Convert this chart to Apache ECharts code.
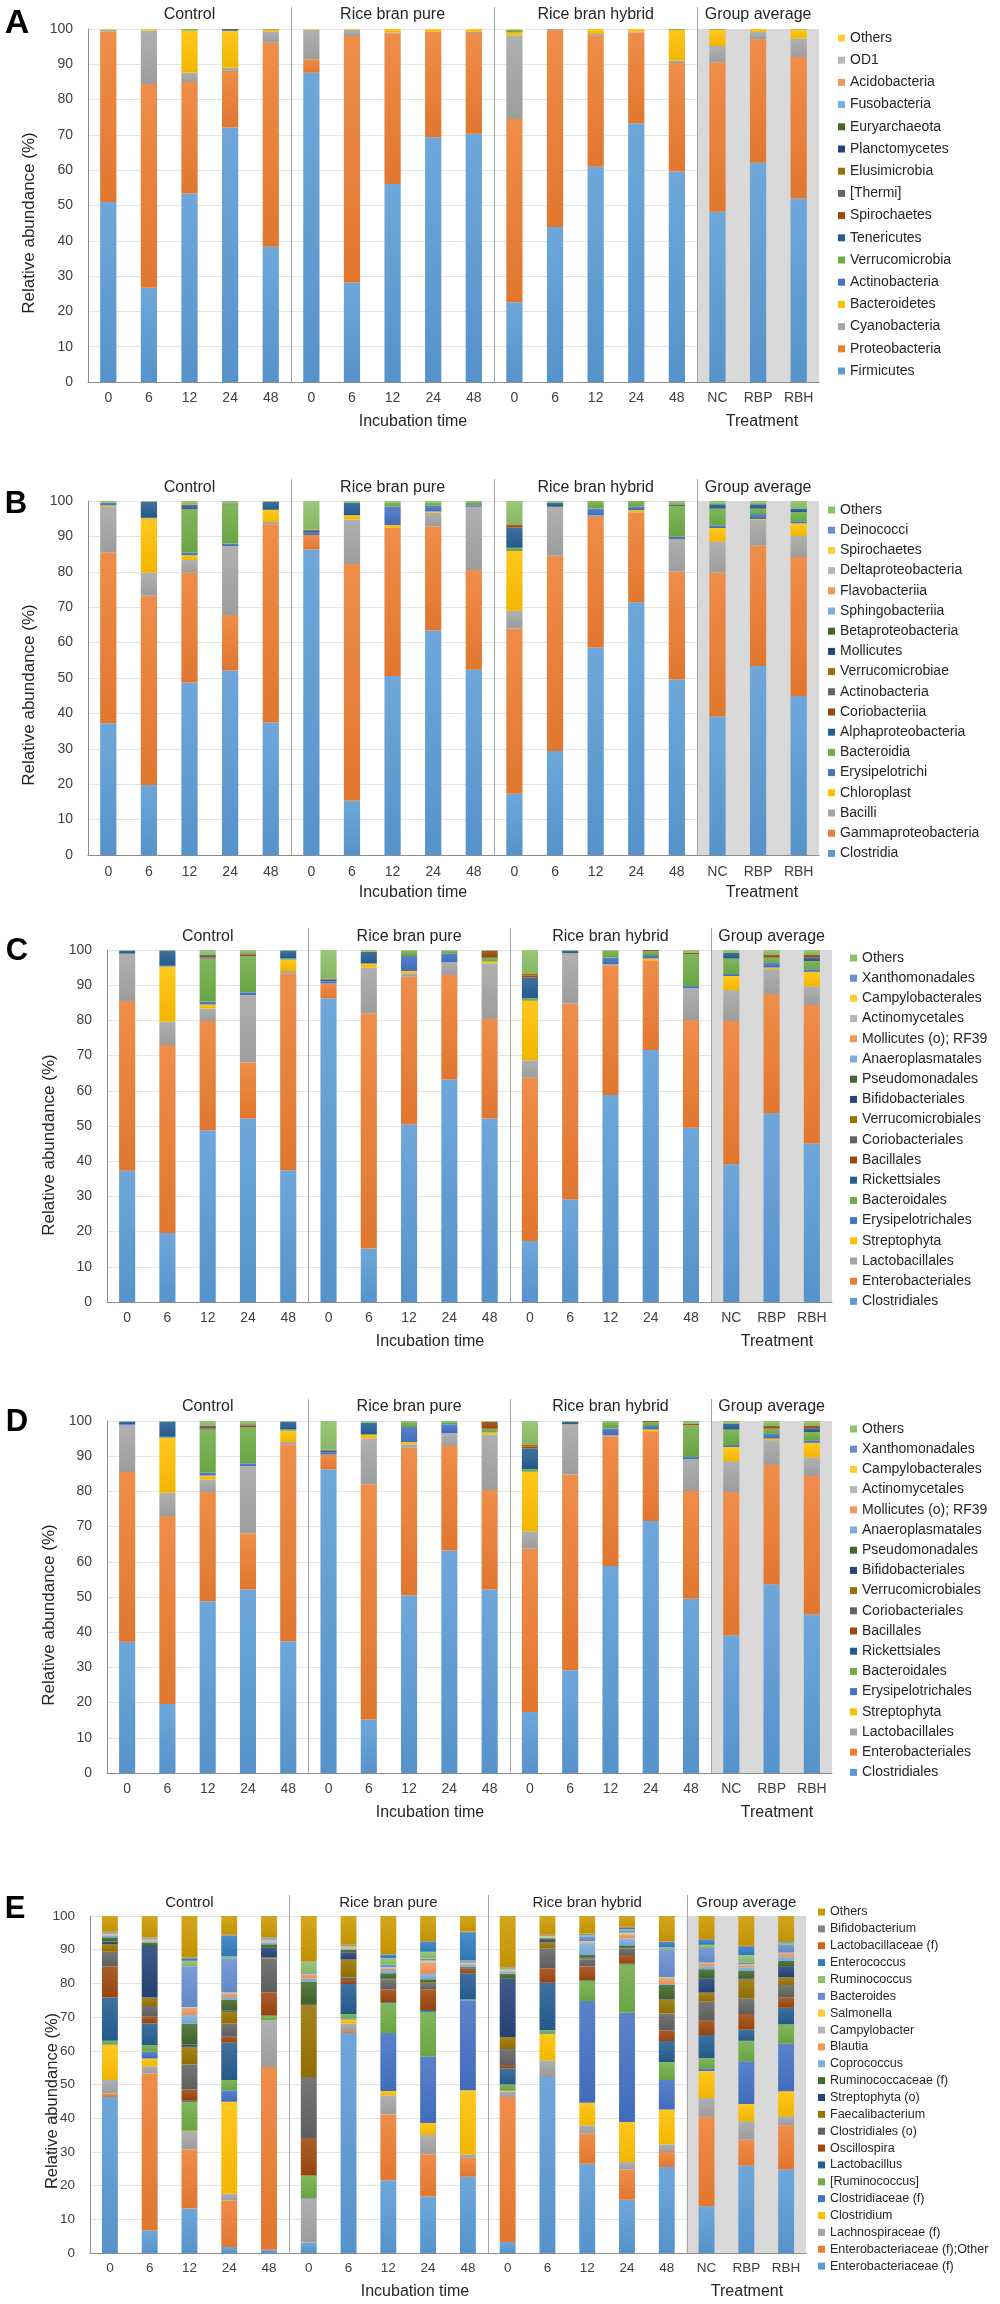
<!DOCTYPE html>
<html>
<head>
<meta charset="utf-8">
<script src="https://cdn.jsdelivr.net/npm/echarts@6/dist/echarts.min.js"></script>
<style>
html,body{margin:0;padding:0;background:#fff;}
#chart{width:1000px;height:2304px;}
</style>
</head>
<body>
<div id="chart"></div>
<script>
// ---------------- DATA ----------------
const categories = ['0','6','12','24','48','0','6','12','24','48','0','6','12','24','48','NC','RBP','RBH'];
const groupTitles = ['Control','Rice bran pure','Rice bran hybrid','Group average'];
const xAxisTitles = ['Incubation time','Treatment'];
const yAxisTitle = 'Relative abundance (%)';
const panelLetters = ['A','B','C','D','E'];

// Panel A: phylum (bottom -> top)
const phylumNames = ['Firmicutes','Proteobacteria','Cyanobacteria','Bacteroidetes','Actinobacteria','Verrucomicrobia','Tenericutes','Spirochaetes','[Thermi]','Elusimicrobia','Planctomycetes','Euryarchaeota','Fusobacteria','Acidobacteria','OD1','Others'];
const phylumValues = [
  [51.0,26.7,53.4,72.1,38.3,87.6,28.2,56.1,69.3,70.3,22.6,43.9,61.0,73.3,59.6,48.2,62.1,52.0],
  [48.2,57.7,31.6,16.1,57.8,3.8,69.8,42.7,29.9,28.6,51.9,55.8,37.1,25.7,30.8,42.3,35.0,40.1],
  [0.5,15.2,2.6,0.8,3.1,8.4,1.8,0.2,0.0,0.3,23.6,0.3,0.5,0.3,0.7,4.7,2.1,5.2],
  [0.2,0.3,12.0,10.5,0.6,0.1,0.2,1.0,0.8,0.8,0.9,0.0,1.4,0.7,8.6,4.5,0.8,2.5],
  [0,0,0,0,0,0,0,0,0,0,0,0,0,0,0,0,0,0],
  [0,0,0.4,0,0,0,0,0,0,0,0.8,0,0,0,0.3,0.1,0,0.1],
  [0,0,0,0.5,0.1,0,0,0,0,0,0,0,0,0,0,0.1,0,0],
  [0,0,0,0,0,0,0,0,0,0,0,0,0,0,0,0,0,0],
  [0,0,0,0,0,0,0,0,0,0,0,0,0,0,0,0,0,0],
  [0,0,0,0,0,0,0,0,0,0,0,0,0,0,0,0,0,0],
  [0,0,0,0,0,0,0,0,0,0,0,0,0,0,0,0,0,0],
  [0,0,0,0,0,0,0,0,0,0,0,0,0,0,0,0,0,0],
  [0,0,0,0,0,0,0,0,0,0,0,0,0,0,0,0,0,0],
  [0,0,0,0,0,0,0,0,0,0,0,0,0,0,0,0,0,0],
  [0,0,0,0,0,0,0,0,0,0,0,0,0,0,0,0,0,0],
  [0.1,0.1,0,0,0.1,0.1,0,0,0,0,0.2,0,0,0,0,0.1,0,0.1]
];

// Panel B: class (bottom -> top)
const classNames = ['Clostridia','Gammaproteobacteria','Bacilli','Chloroplast','Erysipelotrichi','Bacteroidia','Alphaproteobacteria','Coriobacteriia','Actinobacteria','Verrucomicrobiae','Mollicutes','Betaproteobacteria','Sphingobacteriia','Flavobacteriia','Deltaproteobacteria','Spirochaetes','Deinococci','Others'];
const classValues = [
  [37.2,19.8,48.7,52.1,37.4,86.3,15.3,50.6,63.4,52.3,17.3,29.4,58.6,71.4,49.6,39.1,53.4,44.9],
  [48.2,53.4,31.0,15.7,56.0,4.1,66.9,41.9,29.5,28.2,46.7,55.1,36.9,25.4,30.4,40.7,34.0,39.3],
  [13.0,6.5,3.6,19.5,0.7,0,12.6,0,3.8,17.9,5.0,13.9,0.5,0,9.2,8.7,7.2,5.9],
  [0.3,15.4,1.4,0,3.4,0,1.2,0.7,0.3,0,16.9,0,0,0.6,0,3.9,0.3,3.6],
  [0.8,0.2,0.7,0.7,0,0.6,0,5.2,1.7,0.4,0,0,1.9,1.0,0.7,0.7,1.4,0.6],
  [0,0,12.3,10.7,0,0,0,1.2,0.8,1.0,0.9,0,2.1,1.6,8.7,4.8,1.6,2.6],
  [0,4.5,0.6,0,2.2,0.6,3.5,0,0,0,5.7,1.1,0,0,0,1.2,1.2,1.0],
  [0,0,0,0,0,0.3,0,0,0,0,0.7,0,0,0,0,0,0,0],
  [0,0,0.7,0.4,0,0,0,0,0,0,0,0,0,0,0.5,0,0,0],
  [0,0,0,0,0,0,0,0,0,0,0,0,0,0,0,0,0,0],
  [0,0,0,0,0,0,0,0,0,0,0,0,0,0,0,0,0,0],
  [0,0,0,0,0,0,0,0,0,0,0,0,0,0,0,0,0,0],
  [0,0,0,0,0,0,0,0,0,0,0,0,0,0,0,0,0,0],
  [0,0,0,0,0,0,0,0,0,0,0,0,0,0,0,0,0,0],
  [0,0,0,0,0,0,0,0,0,0,0,0,0,0,0,0,0,0],
  [0,0,0,0,0,0,0,0,0,0,0,0,0,0,0,0,0,0],
  [0,0,0,0,0,0,0,0,0,0,0,0,0,0,0,0,0,0],
  [0.5,0.2,1.0,0.9,0.3,8.1,0.5,0.4,0.5,0.2,6.8,0.5,0,0,0.9,0.9,0.9,2.1]
];

// Panels C and D: order (bottom -> top)
const orderNames = ['Clostridiales','Enterobacteriales','Lactobacillales','Streptophyta','Erysipelotrichales','Bacteroidales','Rickettsiales','Bacillales','Coriobacteriales','Verrucomicrobiales','Bifidobacteriales','Pseudomonadales','Anaeroplasmatales','Mollicutes (o); RF39','Actinomycetales','Campylobacterales','Xanthomonadales','Others'];
const orderValues = [
  [37.3,19.6,48.8,52.1,37.4,86.3,15.2,50.5,63.2,52.1,17.3,29.2,58.8,71.6,49.5,39.1,53.6,45.0],
  [48.2,53.4,31.0,16.0,56.0,4.2,66.8,41.9,29.7,28.3,46.4,55.6,36.9,25.3,30.6,40.7,33.9,39.4],
  [13.3,6.6,3.6,19.1,0.6,0,13.0,1.0,3.6,15.8,5.0,14.3,0.3,0,9.0,8.8,7.0,5.2],
  [0,15.7,1.1,0,3.2,0,1.2,0.6,0,0.5,16.9,0,0,0.7,0,4.0,0.5,4.2],
  [0.3,0.2,0.9,0.8,0,0.6,0,4.3,2.6,0,0,0,1.9,1.0,0.7,0.6,1.4,0.7],
  [0,0,12.2,10.3,0.4,0,0,1.5,0.7,1.1,0.7,0,1.9,1.1,9.0,4.4,1.5,2.4],
  [0.7,4.3,0.3,0,2.2,0.5,3.3,0,0,0,5.9,0.7,0,0,0,1.6,0,1.0],
  [0,0,0.4,0.4,0,0.2,0,0,0,2.0,0.6,0,0,0.3,0.4,0,0.7,0.7],
  [0,0,0.4,0.4,0,0,0,0,0,0,0,0,0,0,0,0,0,0],
  [0,0,0,0,0,0,0,0,0,0,0.6,0,0,0,0,0,0,0],
  [0,0,0,0,0,0,0,0,0,0,0,0,0,0,0,0,0,0],
  [0,0,0,0,0,0,0,0,0,0,0,0,0,0,0,0,0,0],
  [0,0,0,0,0,0,0,0,0,0,0,0,0,0,0,0,0,0],
  [0,0,0,0,0,0,0,0,0,0,0,0,0,0,0,0,0,0],
  [0,0,0,0,0,0,0,0,0,0,0,0,0,0,0,0,0,0],
  [0,0,0,0,0,0,0,0,0,0,0,0,0,0,0,0,0,0],
  [0,0,0,0,0,0,0,0,0,0,0,0,0,0,0,0,0,0],
  [0.2,0.2,1.3,0.9,0.2,8.2,0.5,0.2,0.2,0.2,6.6,0.2,0.2,0,0.8,0.8,1.4,1.4]
];

// Panel E: genus (bottom -> top)
const genusNames = ['Enterobacteriaceae (f)','Enterobacteriaceae (f);Other','Lachnospiraceae (f)','Clostridium','Clostridiaceae (f)','[Ruminococcus]','Lactobacillus','Oscillospira','Clostridiales (o)','Faecalibacterium','Streptophyta (o)','Ruminococcaceae (f)','Coprococcus','Blautia','Campylobacter','Salmonella','Bacteroides','Ruminococcus','Enterococcus','Lactobacillaceae (f)','Bifidobacterium','Others'];
const genusValues = [
  [46.3,6.7,13.2,1.8,1.0,3.0,65.3,21.6,16.8,22.6,3.3,52.5,26.5,15.8,25.5,13.9,26.0,24.8],
  [1.0,46.6,17.5,13.8,54.2,0.1,0.6,19.5,12.5,5.7,43.0,0.3,8.9,9.0,4.5,26.5,7.7,13.1],
  [4.0,2.1,5.2,2.0,13.7,13.0,2.2,5.7,5.7,1.0,1.7,4.4,2.5,2.2,2.3,5.6,5.4,2.7],
  [10.4,2.3,0.2,27.3,0.1,0.1,1.2,1.3,3.6,19.0,0.2,7.8,6.7,11.9,10.3,8.0,5.1,7.4],
  [0.2,2.0,0.2,3.4,0.1,0.1,0.2,17.2,19.8,26.7,0.2,0.2,30.2,32.4,8.7,0.8,12.7,14.2],
  [1.1,2.0,8.6,3.0,1.2,6.6,1.4,8.8,13.2,0.2,1.6,0.9,5.9,14.3,5.4,3.1,6.1,5.7],
  [12.8,6.4,0.3,11.1,0.2,0.1,8.9,0.3,0.5,7.8,4.8,14.1,0.2,0.2,6.2,6.8,3.3,4.9],
  [9.2,2.0,3.3,1.8,6.9,11.1,1.2,3.8,6.1,1.0,1.0,4.3,4.1,2.6,3.2,4.2,4.6,3.0],
  [4.4,3.2,7.4,3.9,10.0,18.1,0.8,2.8,1.6,0.3,4.7,5.9,2.2,2.0,5.0,5.7,4.6,3.7],
  [2.3,2.5,5.3,3.5,0.3,21.5,5.3,0.2,0.3,0.2,3.6,1.7,0.2,0.2,4.1,2.7,5.7,2.3],
  [0.7,15.3,0.7,0.3,2.9,0.2,2.0,0.2,0.2,0.2,17.3,0.5,0.2,0.2,0.2,4.2,0.3,3.3],
  [1.3,1.0,6.2,3.3,1.0,6.7,0.8,1.6,0.9,0.3,1.5,0.8,0.8,0.5,4.1,2.7,2.2,1.6],
  [0.5,0.4,2.5,0.8,0.5,0.8,0.3,1.0,1.6,0.5,0.6,0.2,3.5,2.0,0.3,0.9,1.1,1.2],
  [0.2,0.2,1.8,1.0,0.3,1.2,0.2,0.5,3.3,0.3,0.3,0.1,0.3,1.2,1.5,0.8,0.6,1.0],
  [0.1,0.2,0.4,0.2,0.3,0.2,0.2,0.2,0.5,0.2,0.2,0.1,0.2,0.3,0.3,0.2,0.2,0.2],
  [0.1,0.1,0.1,0.1,0.1,0.1,0.1,0.1,0.2,0.1,0.1,0.1,0.1,0.2,0.2,0.1,0.1,0.1],
  [0.2,0.2,12.2,10.2,0.3,0.2,0.2,0.7,0.6,0.5,0.2,0.1,1.5,0.8,8.3,4.3,0.5,2.3],
  [0.1,0.2,1.6,0.5,0.2,3.2,0.3,2.0,2.0,0.2,0.3,0.1,0.3,0.3,0.6,1.0,2.2,0.6],
  [0.2,0.1,0.8,6.2,0.2,0.1,0.1,1.0,3.0,8.4,0.1,0.1,0.3,0.5,1.6,1.5,2.6,0.3],
  [0.1,0.1,0.1,0.1,0.1,0.1,0.1,0.1,0.1,0.1,0.1,0.1,0.1,0.1,0.1,0.1,0.1,0.1],
  [0.1,0.1,0.1,0.1,0.1,0.1,0.1,0.1,0.1,0.1,0.1,0.1,0.1,0.1,0.1,0.1,0.1,0.1],
  [4.7,6.3,12.3,5.6,6.3,13.4,8.5,11.3,7.4,4.6,15.1,5.6,5.2,3.2,7.5,6.8,8.8,7.4]
];

// ---------------- STYLE / LAYOUT ----------------
const palette = ['#5B9BD5','#ED7D31','#A5A5A5','#FFC000','#4472C4','#70AD47','#255E91','#9E480E','#636363','#997300','#264478','#43682B','#7CAFDD','#F1975A','#B7B7B7','#FFCD33','#698ED0','#8CC168','#327DC2','#D26012','#848484','#CC9A00'];
const FONT = "'Liberation Sans', Arial, sans-serif";

const layouts = [
  {left:88, right:819, top:29, bottom:382, titleY:15, sepTop:7, letterX:17, letterY:24, letterSize:34, yTitleX:29, yTitleY:223, xTitleY:422, incX:413, treatX:762, legLeft:838, legTop:26.9, legLH:22.2, legFont:14, labelMargin:9, titleFont:16, tickFont:14},
  {left:88, right:819, top:501, bottom:855, titleY:488, sepTop:479, letterX:16, letterY:504, letterSize:31, yTitleX:29, yTitleY:695, xTitleY:893, incX:413, treatX:762, legLeft:828, legTop:499.9, legLH:20.2, legFont:14, labelMargin:10, titleFont:16, tickFont:14},
  {left:107, right:832, top:950, bottom:1302, titleY:937, sepTop:928, letterX:17, letterY:951, letterSize:31, yTitleX:49, yTitleY:1145, xTitleY:1342, incX:430, treatX:777, legLeft:850, legTop:947.9, legLH:20.2, legFont:14, labelMargin:9, titleFont:16, tickFont:14},
  {left:107, right:832, top:1421, bottom:1773, titleY:1407, sepTop:1399, letterX:17, letterY:1422, letterSize:31, yTitleX:49, yTitleY:1615, xTitleY:1813, incX:430, treatX:777, legLeft:850, legTop:1418.9, legLH:20.2, legFont:14, labelMargin:9, titleFont:16, tickFont:14},
  {left:90, right:806, top:1916, bottom:2253, titleY:1903, sepTop:1895, letterX:15, letterY:1909, letterSize:31, yTitleX:52, yTitleY:2101, xTitleY:2292, incX:415, treatX:747, legLeft:818, legTop:1903.6, legLH:16.86, legFont:12.5, labelMargin:8, titleFont:15, tickFont:13.5}
];

const panels = [
  {names: phylumNames, values: phylumValues},
  {names: classNames, values: classValues},
  {names: orderNames, values: orderValues},
  {names: orderNames, values: orderValues},
  {names: genusNames, values: genusValues}
];

function mix(hex, t) {
  const n = parseInt(hex.slice(1), 16);
  let r = (n >> 16) & 255, g = (n >> 8) & 255, b = n & 255;
  if (t > 0) { r += (255 - r) * t; g += (255 - g) * t; b += (255 - b) * t; }
  else { r *= (1 + t); g *= (1 + t); b *= (1 + t); }
  return 'rgb(' + Math.round(r) + ',' + Math.round(g) + ',' + Math.round(b) + ')';
}
function grad(hex) {
  return {type:'linear', x:0, y:0, x2:0, y2:1, colorStops:[{offset:0, color:mix(hex, 0.12)}, {offset:1, color:mix(hex, -0.05)}]};
}

const grids = [], xAxes = [], yAxes = [], series = [], legends = [];
panels.forEach((p, i) => {
  const L = layouts[i];
  grids.push({left:L.left, top:L.top, width:L.right - L.left, height:L.bottom - L.top, containLabel:false});
  xAxes.push({
    type:'category', gridIndex:i, data:categories,
    axisLine:{show:true, lineStyle:{color:'#8C8C8C', width:1.2}},
    axisTick:{show:false},
    axisLabel:{interval:0, margin:L.labelMargin, fontSize:L.tickFont, color:'#404040', fontFamily:FONT}
  });
  yAxes.push({
    type:'value', gridIndex:i, min:0, max:100, interval:10,
    axisLine:{show:true, lineStyle:{color:'#8C8C8C'}},
    axisTick:{show:false},
    splitLine:{show:true, lineStyle:{color:'#E4E4E4'}},
    axisLabel:{margin:15, fontSize:L.tickFont, color:'#404040', fontFamily:FONT}
  });
  p.names.forEach((name, k) => {
    series.push({
      type:'bar', name:name, stack:'stack' + i, xAxisIndex:i, yAxisIndex:i,
      data:p.values[k], barWidth:'40%', silent:true,
      itemStyle:{color:grad(palette[k])},
      emphasis:{disabled:true}
    });
  });
  legends.push({
    orient:'vertical', left:L.legLeft, top:L.legTop, padding:0,
    itemWidth:7, itemHeight:7, itemGap:0, icon:'rect', selectedMode:false,
    textStyle:{fontSize:L.legFont, lineHeight:L.legLH, color:'#262626', fontFamily:FONT},
    data:p.names.map((n, k) => ({name:n, itemStyle:{color:palette[k]}})).reverse()
  });
});

const chart = echarts.init(document.getElementById('chart'), null, {renderer:'canvas'});
chart.setOption({
  animation:false,
  backgroundColor:'#ffffff',
  grid:grids, xAxis:xAxes, yAxis:yAxes, series:series, legend:legends
});

// decorations: group separators, shading, titles
const graphics = [];
panels.forEach((p, i) => {
  const L = layouts[i];
  const c0 = chart.convertToPixel({xAxisIndex:i}, 0);
  const c17 = chart.convertToPixel({xAxisIndex:i}, 17);
  const bw = (c17 - c0) / 17;
  const boundary = k => chart.convertToPixel({xAxisIndex:i}, k) - bw / 2;
  const yTop = chart.convertToPixel({yAxisIndex:i}, 100);
  const yBot = chart.convertToPixel({yAxisIndex:i}, 0);
  const xEnd = c17 + bw / 2;
  graphics.push({type:'rect', z:1, silent:true,
    shape:{x:boundary(15), y:yTop, width:xEnd - boundary(15), height:yBot - yTop},
    style:{fill:'#D9D9D9'}});
  [5, 10, 15].forEach(k => {
    const x = Math.round(boundary(k)) + 0.5;
    graphics.push({type:'line', z:3, silent:true, shape:{x1:x, y1:L.sepTop, x2:x, y2:yBot},
      style:{stroke:'#A6A6A6', lineWidth:1}});
  });
  [2, 7, 12, 16].forEach((k, g) => {
    graphics.push({type:'text', z:3, silent:true,
      x:chart.convertToPixel({xAxisIndex:i}, k), y:L.titleY,
      style:{text:groupTitles[g], fontSize:L.titleFont, fontFamily:FONT, fill:'#262626', align:'center', verticalAlign:'middle'}});
  });
  graphics.push({type:'text', z:3, silent:true, x:L.incX, y:L.xTitleY,
    style:{text:xAxisTitles[0], fontSize:16, fontFamily:FONT, fill:'#262626', align:'center', verticalAlign:'middle'}});
  graphics.push({type:'text', z:3, silent:true, x:L.treatX, y:L.xTitleY,
    style:{text:xAxisTitles[1], fontSize:16, fontFamily:FONT, fill:'#262626', align:'center', verticalAlign:'middle'}});
  graphics.push({type:'text', z:3, silent:true, x:L.yTitleX, y:L.yTitleY, rotation:Math.PI / 2,
    style:{text:yAxisTitle, fontSize:i === 4 ? 16.5 : 17, fontFamily:FONT, fill:'#262626', align:'center', verticalAlign:'middle'}});
  graphics.push({type:'text', z:3, silent:true, x:L.letterX, y:L.letterY,
    style:{text:panelLetters[i], fontSize:L.letterSize, fontWeight:'bold', fontFamily:FONT, fill:'#000000', align:'center', verticalAlign:'middle'}});
});
chart.setOption({graphic:{elements:graphics}});
</script>
</body>
</html>
